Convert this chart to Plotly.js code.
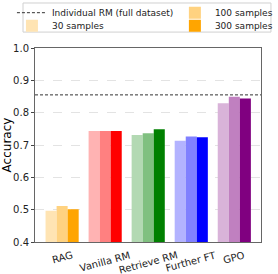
<!DOCTYPE html>
<html><head><meta charset="utf-8">
<script src="https://cdn.plot.ly/plotly-3.0.1.min.js"></script>
<style>html,body{margin:0;padding:0;background:#fff}#chart{width:278px;height:274px}</style>
</head><body><div id="chart"></div>
<script>
const categories = ["RAG", "Vanilla RM", "Retrieve RM", "Further FT", "GPO"];
const seriesNames = ["30 samples", "100 samples", "300 samples"];
const acc30 = [0.497, 0.743, 0.731, 0.713, 0.829];
const acc100 = [0.511, 0.743, 0.736, 0.726, 0.849];
const acc300 = [0.501, 0.743, 0.749, 0.724, 0.844];
const fullDatasetAcc = 0.855;
const fullDatasetName = "Individual RM (full dataset)";
const yTicks = [0.4, 0.5, 0.6, 0.7, 0.8, 0.9, 1.0];

const baseColors = [[255,165,0],[255,0,0],[0,128,0],[0,0,255],[128,0,128]];
function shade(c, a){ return 'rgb(' + c.map(v => Math.round(v*a + 255*(1-a))).join(',') + ')'; }
const alphas = [0.3, 0.5, 1.0];
const values = [acc30, acc100, acc300];
const legendIds = ['legend2', 'legend3', 'legend4'];

const traces = values.map((vals, i) => ({
  type: 'bar', x: categories, y: vals, name: seriesNames[i],
  marker: {color: baseColors.map(c => shade(c, alphas[i])), line: {width: 0}},
  legend: legendIds[i]
}));

const lfont = {family: 'DejaVu Sans, sans-serif', size: 9, color: '#222'};
function leg(x, y){ return {x: x, y: y, xanchor: 'left', yanchor: 'middle',
  bgcolor: 'rgba(0,0,0,0)', borderwidth: 0, font: lfont, orientation: 'v'}; }

const layout = {
  width: 278, height: 274,
  margin: {l: 35, r: 17, t: 48, b: 32, autoexpand: false},
  font: {family: 'DejaVu Sans, sans-serif', size: 10, color: '#000'},
  paper_bgcolor: '#fff', plot_bgcolor: '#fff',
  barmode: 'group', bargap: 0.23, bargroupgap: 0,
  showlegend: true,
  legend: leg(-0.102, 1.182),
  legend2: leg(-0.102, 1.115),
  legend3: leg(0.619, 1.182),
  legend4: leg(0.619, 1.115),
  xaxis: {range: [-0.63, 4.62], showline: true, mirror: true, showticklabels: false,
    linecolor: '#666', linewidth: 1, ticks: '', showgrid: false},
  yaxis: {range: [0.4, 1.0], tickvals: yTicks, tickformat: '.1f', showline: true, mirror: true,
    linecolor: '#666', linewidth: 1, ticks: 'outside', ticklen: 3, tickcolor: '#444',
    showgrid: true, gridcolor: '#e3e3e3', griddash: 'dash', zeroline: false,
    title: {text: 'Accuracy', font: {size: 12}}, tickfont: {size: 10, color: '#222'}},
  annotations: categories.map((c, i) => ({text: c, x: i, xref: 'x', y: -0.025, yref: 'paper',
    xanchor: 'center', yanchor: 'top', textangle: -15, showarrow: false,
    font: {size: 10, color: '#222'}})),
  shapes: [
    {type: 'rect', xref: 'paper', yref: 'paper', x0: -0.053, x1: 1.044, y0: 1.082, y1: 1.232,
     line: {color: '#d0d0d0', width: 1}, fillcolor: 'rgba(0,0,0,0)'},
    {type: 'line', xref: 'paper', x0: 0, x1: 1, yref: 'y', y0: fullDatasetAcc, y1: fullDatasetAcc,
     line: {color: '#333', width: 1, dash: '3px,2px'}, showlegend: true, legend: 'legend',
     name: fullDatasetName}
  ]
};
Plotly.newPlot('chart', traces, layout, {staticPlot: true}).catch(e => console.error(e));
</script></body></html>
